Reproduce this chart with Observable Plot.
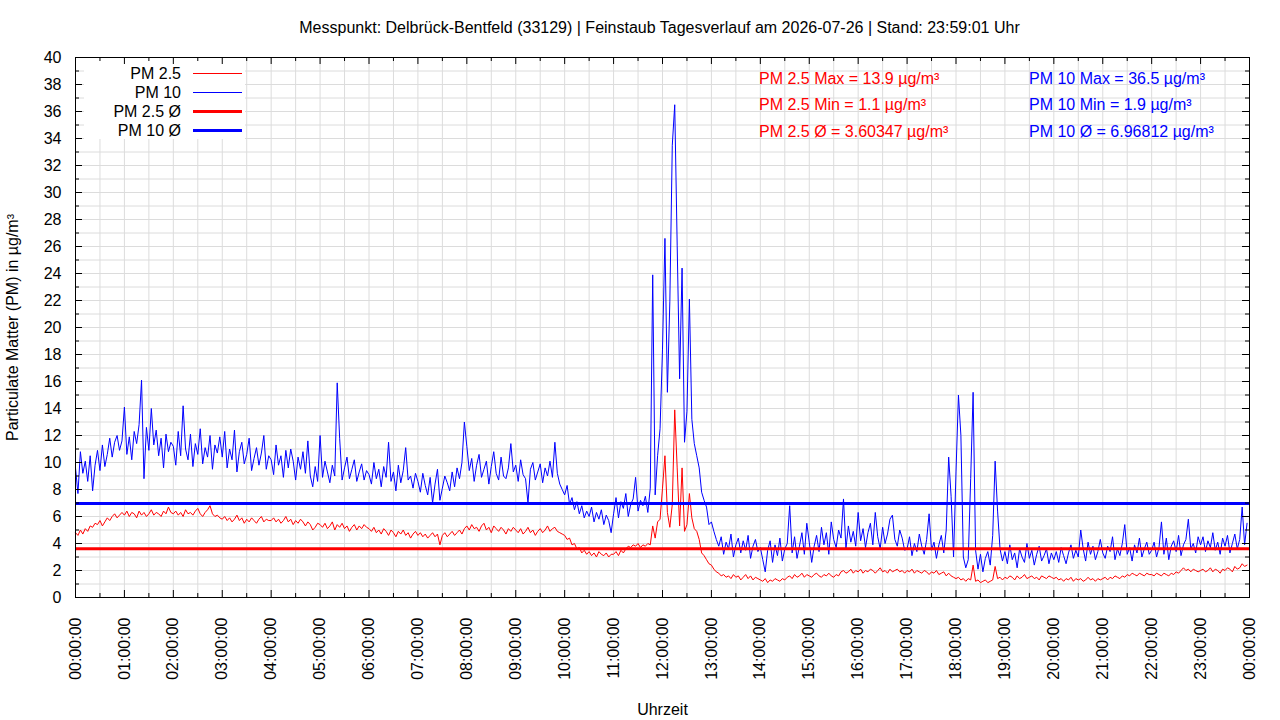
<!DOCTYPE html>
<html><head><meta charset="utf-8">
<script src="https://cdn.jsdelivr.net/npm/d3@7"></script>
<script src="https://cdn.jsdelivr.net/npm/@observablehq/plot@0.6"></script>
<style>
body{margin:0;background:#fff;}
#wrap{position:relative;width:1280px;height:720px;overflow:hidden;}
</style></head><body><div id="wrap"></div>
<script>
// ---- data (3-minute samples, 20 per hour) ----
const stepMinutes = 3;
const pm10 = [
 9.6,7.7,10.8,9.2,10.1,8.6,10.5,7.9,9.8,10.9,9.4,11.3,9.7,10.6,11.8,10.4,11.5,12.0,10.9,11.6,
 14.1,10.6,11.9,10.2,12.3,11.4,12.8,16.1,8.8,12.6,10.9,14.0,11.3,12.4,10.5,11.8,9.6,12.1,10.8,11.5,
 11.2,9.8,12.3,10.5,14.2,11.0,10.2,12.1,9.7,11.4,10.6,12.5,9.9,11.1,10.4,12.0,9.5,11.3,10.7,11.9,
 10.4,12.3,9.6,11.0,10.2,12.4,9.3,10.8,11.5,9.9,10.6,11.8,9.4,10.3,11.1,9.8,10.7,12.0,9.5,10.5,
 10.2,9.1,11.3,9.8,10.5,8.9,10.9,9.6,11.0,10.1,8.7,10.4,9.5,10.8,9.2,11.6,9.0,8.2,9.7,8.6,
 12.0,8.9,10.1,9.3,8.5,9.8,9.0,15.9,11.8,8.7,9.6,10.4,8.8,9.5,10.2,8.6,9.3,9.9,8.7,9.4,
 9.1,8.4,10.0,8.8,9.5,8.2,9.7,8.9,11.5,8.6,9.3,7.9,9.8,8.5,9.4,11.1,8.7,9.0,8.1,9.2,
 8.6,7.8,9.2,8.3,7.6,8.9,7.0,8.4,9.5,7.2,8.1,9.0,8.5,7.9,9.3,8.2,9.6,8.8,10.0,13.0,
 11.2,9.4,10.3,8.6,9.8,10.6,8.9,9.5,10.1,8.4,9.7,10.8,9.2,8.7,10.4,9.0,8.8,9.6,11.4,9.3,
 9.8,8.6,10.2,9.1,8.8,7.0,9.5,10.0,8.7,9.3,9.9,8.5,9.6,9.0,10.1,8.9,11.5,9.2,8.4,8.0,
 7.6,8.3,6.9,7.4,6.5,7.1,6.2,6.8,5.9,6.4,6.0,6.7,5.6,6.3,5.8,6.5,5.4,6.1,5.7,4.8,
 6.2,7.4,5.9,7.1,6.6,7.7,6.0,6.9,7.3,8.9,6.4,7.2,6.8,7.5,6.3,8.1,23.9,7.6,10.5,12.5,
 18.4,26.6,15.2,21.9,33.5,36.5,26.1,16.2,24.4,11.5,13.8,22.1,13.2,11.4,10.5,9.6,7.8,7.2,6.7,5.4,
 5.6,4.9,4.3,3.8,4.5,3.2,4.1,3.6,4.7,3.0,3.9,4.4,3.3,4.2,3.5,4.6,2.9,3.8,4.3,3.4,
 3.7,2.8,1.9,3.5,4.2,2.6,3.9,3.1,4.4,2.7,3.6,4.0,6.8,3.3,4.5,2.9,3.8,4.8,3.2,5.5,
 4.1,2.6,3.8,4.6,3.4,5.2,3.9,4.8,3.2,5.6,4.3,3.7,5.0,4.4,7.3,3.6,5.3,4.1,4.9,3.8,
 6.3,4.2,5.1,3.7,4.8,5.5,3.9,6.3,4.5,3.6,5.2,4.0,4.7,5.8,6.1,4.3,3.8,5.0,4.4,3.5,
 3.6,4.5,3.1,4.0,3.4,4.7,3.8,3.2,4.3,6.2,3.5,4.1,2.9,3.9,4.6,3.3,5.0,10.4,7.5,3.0,
 9.3,15.0,12.0,3.0,2.2,2.8,8.8,15.2,3.5,2.1,3.2,1.9,2.9,3.4,2.4,4.6,10.1,6.4,3.6,2.7,
 3.4,2.5,3.9,2.8,3.3,2.2,3.6,3.0,2.6,4.0,2.9,3.5,2.4,3.2,3.8,2.7,3.1,3.6,2.5,3.3,
 2.8,3.4,2.6,3.7,3.1,2.5,3.3,3.9,2.9,3.5,3.0,5.0,3.6,2.7,4.1,3.2,3.8,2.8,3.4,4.3,
 3.3,2.9,3.8,3.4,4.5,2.8,3.6,3.1,4.0,5.4,3.2,3.7,2.7,3.9,3.3,4.4,3.0,3.6,4.1,3.2,
 3.5,4.1,3.0,3.7,5.6,3.2,4.4,2.8,3.8,4.2,3.4,4.6,3.1,3.9,4.3,5.8,3.6,4.0,3.3,4.5,
 3.9,4.5,3.4,4.2,3.7,4.8,3.5,4.1,3.2,4.4,3.8,4.6,3.3,4.0,4.7,3.6,4.3,6.7,3.9,5.5
];
const pm25 = [
 4.8,4.6,5.0,4.7,5.1,4.9,5.3,5.2,5.5,5.4,5.7,5.3,5.6,5.9,5.7,6.0,6.2,5.9,6.1,6.3,
 6.1,6.4,6.0,6.3,6.2,5.9,6.4,6.1,6.3,6.0,6.2,6.5,6.1,6.3,6.2,6.0,6.4,6.2,6.7,6.3,
 6.2,6.4,6.1,6.3,6.0,6.5,6.2,6.3,6.1,6.4,6.6,6.2,6.0,6.3,6.5,6.8,6.2,6.0,6.1,5.9,
 5.8,6.0,5.7,5.9,5.6,5.8,6.1,5.7,5.9,5.5,5.8,5.6,5.9,5.7,5.5,5.8,6.0,5.6,5.8,5.7,
 5.7,5.9,5.6,5.8,5.5,5.7,6.0,5.6,5.8,5.4,5.7,5.5,5.8,5.6,5.3,5.6,5.4,5.0,5.2,5.5,
 5.4,5.2,5.5,5.1,5.3,5.6,5.0,5.4,5.2,5.5,5.1,5.3,4.9,5.2,5.4,5.0,5.3,5.1,5.4,5.2,
 5.1,4.9,5.2,4.8,5.0,4.7,5.1,4.9,4.6,5.0,4.8,4.5,4.9,4.7,5.0,4.6,4.8,4.4,4.7,4.9,
 4.6,4.8,4.5,4.7,4.4,4.6,4.8,4.5,4.7,3.9,4.6,4.8,4.5,4.7,4.9,4.6,4.8,5.0,4.7,5.1,
 5.3,5.0,5.4,5.1,5.2,4.9,5.3,5.5,5.0,5.2,4.8,5.3,5.1,4.9,5.2,5.0,4.7,5.1,4.9,5.2,
 5.0,4.8,5.1,4.7,4.9,5.2,4.8,5.0,4.6,4.9,5.1,4.8,5.0,5.3,4.9,5.1,5.2,4.9,4.8,4.7,
 4.6,4.3,4.4,3.9,4.0,3.6,3.7,3.3,3.5,3.2,3.4,3.1,3.3,3.0,3.4,3.2,3.1,3.3,3.0,3.2,
 3.2,3.4,3.1,3.5,3.3,3.6,3.8,3.7,3.9,3.8,4.0,3.7,3.9,3.8,4.0,3.9,5.3,4.4,5.6,5.8,
 8.1,10.5,6.3,5.2,6.9,13.9,9.6,5.3,9.6,4.9,5.4,7.7,5.9,5.1,4.9,4.3,3.3,3.1,2.8,2.5,
 2.4,2.1,1.9,1.8,1.6,1.7,1.5,1.6,1.4,1.7,1.5,1.6,1.3,1.5,1.7,1.4,1.6,1.3,1.5,1.4,
 1.3,1.2,1.4,1.1,1.3,1.2,1.4,1.3,1.2,1.4,1.3,1.5,1.6,1.4,1.7,1.5,1.6,1.8,1.5,1.7,
 1.6,1.5,1.7,1.8,1.6,1.5,1.7,1.6,1.8,1.6,1.5,1.7,1.6,1.9,2.0,1.8,1.9,2.1,1.8,2.0,
 1.9,2.1,1.8,2.0,1.9,2.1,2.0,1.8,2.0,2.2,1.9,2.0,1.8,2.1,1.9,2.0,2.1,1.9,2.0,1.8,
 2.0,1.9,2.1,1.8,2.0,1.9,1.8,2.0,1.9,1.7,1.9,1.8,2.0,1.7,1.8,1.9,1.6,1.8,1.6,1.5,
 1.4,1.5,1.3,1.4,1.2,1.4,1.3,2.4,1.2,1.3,1.1,1.2,1.3,1.1,1.2,1.3,2.3,1.4,1.5,1.3,
 1.5,1.4,1.6,1.5,1.3,1.6,1.4,1.5,1.7,1.4,1.5,1.6,1.4,1.5,1.3,1.6,1.5,1.4,1.6,1.5,
 1.4,1.5,1.3,1.4,1.2,1.4,1.3,1.5,1.2,1.4,1.3,1.4,1.2,1.3,1.5,1.3,1.4,1.2,1.4,1.3,
 1.4,1.5,1.3,1.5,1.4,1.6,1.5,1.4,1.6,1.5,1.7,1.6,1.8,1.7,1.6,1.8,1.7,1.6,1.8,1.7,
 1.7,1.6,1.8,1.7,1.6,1.8,1.7,1.6,1.8,1.7,1.9,1.8,2.0,2.2,2.0,2.1,1.9,2.1,2.0,1.9,
 2.0,2.1,1.9,2.0,2.2,1.9,2.1,2.0,1.8,2.1,2.0,2.2,2.1,1.9,2.3,2.1,2.2,2.5,2.3,2.4
];
const pm25Max = 13.9, pm25Min = 1.1, pm25Avg = 3.60347;
const pm10Max = 36.5, pm10Min = 1.9, pm10Avg = 6.96812;
const legendLabels = ["PM 2.5", "PM 10", "PM 2.5 Ø", "PM 10 Ø"];
const titleText = "Messpunkt: Delbrück-Bentfeld (33129) | Feinstaub Tagesverlauf am 2026-07-26 | Stand: 23:59:01 Uhr";
const yLabel = "Particulate Matter (PM) in µg/m³";
const xLabel = "Uhrzeit";
const hourTicks = d3.range(0, 1441, 60);
const yTicks = d3.range(0, 41, 2);

// ---- layout ----
const W = 1280, H = 720, mL = 75, mR = 31, mT = 57, mB = 123;
const plotH = H - mT - mB, plotW = W - mL - mR;
const FONT = "'Liberation Sans', Arial, sans-serif";
const FS = 16;
const RED = "#ff0000", BLUE = "#0000ff", GRID = "#dcdcdc";

const rows10 = pm10.map((v, i) => ({t: i * stepMinutes, v}));
const rows25 = pm25.map((v, i) => ({t: i * stepMinutes, v}));
const halfTicks = d3.range(30, 1440, 60);
const gridX = d3.range(30, 1440, 30);
const gridY = d3.range(1, 40, 1);
const yMinor = d3.range(1, 40, 2);
const fmt = m => String(Math.floor(m / 60) % 24).padStart(2, "0") + ":00:00";

function legendMark() {
  const g = d3.create("svg:g").attr("font-family", FONT).attr("font-size", FS).attr("fill", "#000");
  g.append("rect").attr("x", 84).attr("y", 58).attr("width", 161).attr("height", 81).attr("fill", "#fff");
  const colors = [RED, BLUE, RED, BLUE], widths = [1, 1, 3, 3];
  legendLabels.forEach((lab, i) => {
    const y = 73.5 + i * 19;
    g.append("text").attr("x", 181).attr("y", y).attr("dy", "0.35em").attr("text-anchor", "end").text(lab);
    g.append("line").attr("x1", 193).attr("x2", 242).attr("y1", y).attr("y2", y)
      .attr("stroke", colors[i]).attr("stroke-width", widths[i]);
  });
  return g.node();
}
function statsMark() {
  const g = d3.create("svg:g").attr("font-family", FONT).attr("font-size", FS).attr("text-anchor", "start");
  const red = [`PM 2.5 Max = ${pm25Max} µg/m³`, `PM 2.5 Min = ${pm25Min} µg/m³`, `PM 2.5 Ø = ${pm25Avg} µg/m³`];
  const blue = [`PM 10 Max = ${pm10Max} µg/m³`, `PM 10 Min = ${pm10Min} µg/m³`, `PM 10 Ø = ${pm10Avg} µg/m³`];
  red.forEach((s, i) => g.append("text").attr("x", 759).attr("y", 78 + i * 26.5).attr("dy", "0.35em").attr("fill", RED).text(s));
  blue.forEach((s, i) => g.append("text").attr("x", 1029).attr("y", 78 + i * 26.5).attr("dy", "0.35em").attr("fill", BLUE).text(s));
  return g.node();
}

const chart = Plot.plot({
  width: W, height: H,
  marginLeft: mL, marginRight: mR, marginTop: mT, marginBottom: mB,
  style: {fontFamily: FONT, fontSize: FS + "px", color: "#000", background: "#fff", overflow: "visible"},
  x: {domain: [0, 1440]},
  y: {domain: [0, 40]},
  marks: [
    Plot.ruleX(gridX, {stroke: GRID, strokeWidth: 1}),
    Plot.ruleY(gridY, {stroke: GRID, strokeWidth: 1}),
    legendMark,
    Plot.line(rows10, {x: "t", y: "v", stroke: BLUE, strokeWidth: 1}),
    Plot.line(rows25, {x: "t", y: "v", stroke: RED, strokeWidth: 1}),
    Plot.ruleY([pm10Avg], {stroke: BLUE, strokeWidth: 3}),
    Plot.ruleY([pm25Avg], {stroke: RED, strokeWidth: 3}),
    Plot.ruleX(hourTicks, {stroke: "#000", insetTop: plotH - 7}),
    Plot.ruleX(hourTicks, {stroke: "#000", insetBottom: plotH - 7}),
    Plot.ruleX(halfTicks, {stroke: "#000", insetTop: plotH - 4}),
    Plot.ruleX(halfTicks, {stroke: "#000", insetBottom: plotH - 4}),
    Plot.ruleY(yTicks, {stroke: "#000", insetRight: plotW - 7}),
    Plot.ruleY(yTicks, {stroke: "#000", insetLeft: plotW - 7}),
    Plot.ruleY(yMinor, {stroke: "#000", insetRight: plotW - 4}),
    Plot.ruleY(yMinor, {stroke: "#000", insetLeft: plotW - 4}),
    Plot.axisX({ticks: hourTicks, tickSize: 0, tickPadding: 20, tickRotate: -90, tickFormat: fmt, fontSize: FS,
      label: xLabel, labelAnchor: "center", labelArrow: "none", labelOffset: 117}),
    Plot.axisY({ticks: yTicks, tickSize: 0, tickPadding: 14, tickFormat: d => String(d), fontSize: FS,
      label: yLabel, labelAnchor: "center", labelArrow: "none", labelOffset: 69}),
    Plot.frame({stroke: "#000"}),
    statsMark,
    Plot.text([titleText], {frameAnchor: "top", dy: -36, dx: -3, fontSize: FS, fill: "#000"})
  ]
});
document.getElementById("wrap").appendChild(chart);
</script></body></html>
